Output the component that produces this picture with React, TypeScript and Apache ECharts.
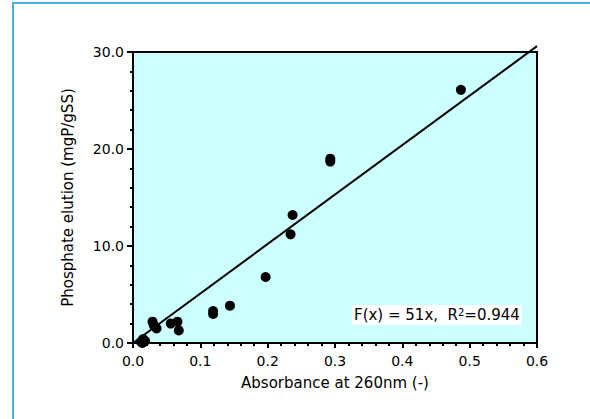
import React, { useEffect, useRef } from "react";
import * as echarts from "echarts";

const absorbance = [0.012, 0.015, 0.018, 0.014, 0.029, 0.031, 0.035, 0.056, 0.066, 0.068, 0.119, 0.119, 0.144, 0.197, 0.234, 0.237, 0.293, 0.293, 0.487];
const elution = [0.1, 0.4, 0.2, 0.0, 2.2, 1.8, 1.5, 2.0, 2.2, 1.3, 3.0, 3.3, 3.85, 6.8, 11.2, 13.2, 18.7, 19.0, 26.1];
const fitX = [0, 0.6];
const slope = 51;
const fitLabel = "F(x) = 51x,  R";
const r2Text = "=0.944";

export default function App() {
  const ref = useRef<HTMLDivElement>(null);
  useEffect(() => {
    if (!ref.current) return;
    const chart = echarts.init(ref.current, null, { renderer: "svg" });
    const font = "DejaVu Sans";
    chart.setOption({
      animation: false,
      backgroundColor: "#ffffff",
      grid: {
        left: 133,
        top: 52,
        width: 404,
        height: 291,
        show: true,
        backgroundColor: "#ccffff",
        borderColor: "#000",
        borderWidth: 2,
      },
      xAxis: {
        type: "value",
        min: 0,
        max: 0.6,
        interval: 0.1,
        name: "Absorbance at 260nm (-)",
        nameLocation: "middle",
        nameGap: 32,
        nameTextStyle: { fontFamily: font, fontSize: 15, color: "#000" },
        axisLine: { show: true, onZero: false, lineStyle: { color: "#000", width: 2 } },
        axisTick: { show: true, inside: false, length: 5, lineStyle: { color: "#000", width: 2 } },
        minorTick: { show: true, splitNumber: 5, length: 3, lineStyle: { color: "#000", width: 2 } },
        splitLine: { show: false },
        axisLabel: {
          margin: 11,
          fontFamily: font,
          fontSize: 14,
          color: "#000",
          formatter: (v: number) => v.toFixed(1),
        },
      },
      yAxis: {
        type: "value",
        min: 0,
        max: 30,
        interval: 10,
        name: "Phosphate elution (mgP/gSS)",
        nameLocation: "middle",
        nameGap: 58,
        nameTextStyle: { fontFamily: font, fontSize: 15, color: "#000" },
        axisLine: { show: true, onZero: false, lineStyle: { color: "#000", width: 2 } },
        axisTick: { show: true, inside: false, length: 6, lineStyle: { color: "#000", width: 2 } },
        minorTick: { show: true, splitNumber: 5, length: 3, lineStyle: { color: "#000", width: 2 } },
        splitLine: { show: false },
        axisLabel: {
          margin: 9,
          fontFamily: font,
          fontSize: 14,
          color: "#000",
          formatter: (v: number) => v.toFixed(1),
        },
      },
      series: [
        {
          type: "line",
          data: fitX.map((x) => [x, x * slope]),
          showSymbol: false,
          symbol: "none",
          clip: false,
          lineStyle: { color: "#000", width: 2 },
          z: 3,
        },
        {
          type: "scatter",
          data: absorbance.map((x, i) => [x, elution[i]]),
          symbol: "circle",
          symbolSize: 10,
          itemStyle: { color: "#000", opacity: 1 },
          clip: false,
          z: 4,
        },
      ],
      graphic: [
        {
          type: "rect",
          shape: { x: 13, y: 3, width: 700, height: 600 },
          style: { fill: "none", stroke: "#45b3e6", lineWidth: 2 },
          silent: true,
          z: 10,
        },
        {
          type: "text",
          left: 352,
          top: 305,
          z: 10,
          style: {
            text: fitLabel + "{sup|2}" + r2Text,
            fontFamily: font,
            fontSize: 15,
            fill: "#000",
            backgroundColor: "#fff",
            padding: [2, 2, 2, 2],
            rich: {
              sup: { fontFamily: font, fontSize: 10, verticalAlign: "top", padding: [0, 0, 6, 0] },
            },
          },
        },
      ],
    });
    return () => chart.dispose();
  }, []);
  return (
    <div
      ref={ref}
      style={{ position: "fixed", left: 0, top: 0, width: 590, height: 419 }}
    />
  );
}
